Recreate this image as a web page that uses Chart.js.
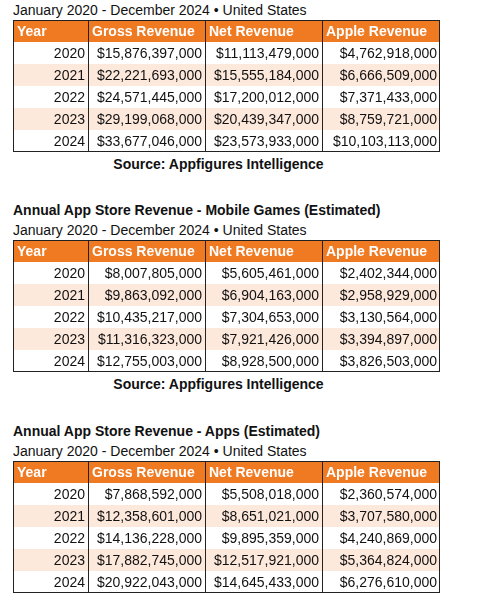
<!DOCTYPE html>
<html>
<head>
<meta charset="utf-8">
<script src="https://cdn.jsdelivr.net/npm/chart.js@4"></script>
<style>
  body { margin: 0; background: #fff; font-family: "Liberation Sans", Arial, sans-serif; color: #111; }
  .block { position: absolute; left: 13px; width: 427px; }
  .title { font-weight: bold; font-size: 14px; height: 20px; line-height: 20px; }
  .sub { font-size: 14px; height: 20px; line-height: 20px; }
  .src { font-weight: bold; font-size: 14px; text-align: center; margin-top: 4px; padding-right: 16px; }
  .wrap { position: relative; width: 427px; height: 132px; }
</style>
</head>
<body>
<div class="block" style="top:0px">
  <div class="sub">January 2020 - December 2024 • United States</div>
  <div class="wrap"><canvas id="t1"></canvas></div>
  <div class="src">Source: Appfigures Intelligence</div>
</div>
<div class="block" style="top:200px">
  <div class="title">Annual App Store Revenue - Mobile Games (Estimated)</div>
  <div class="sub">January 2020 - December 2024 • United States</div>
  <div class="wrap"><canvas id="t2"></canvas></div>
  <div class="src">Source: Appfigures Intelligence</div>
</div>
<div class="block" style="top:421px">
  <div class="title">Annual App Store Revenue - Apps (Estimated)</div>
  <div class="sub">January 2020 - December 2024 • United States</div>
  <div class="wrap"><canvas id="t3"></canvas></div>
</div>
<script>
const columns = ['Year', 'Gross Revenue', 'Net Revenue', 'Apple Revenue'];
const years = ['2020', '2021', '2022', '2023', '2024'];

const totalGross = [15876397000, 22221693000, 24571445000, 29199068000, 33677046000];
const totalNet = [11113479000, 15555184000, 17200012000, 20439347000, 23573933000];
const totalApple = [4762918000, 6666509000, 7371433000, 8759721000, 10103113000];

const gamesGross = [8007805000, 9863092000, 10435217000, 11316323000, 12755003000];
const gamesNet = [5605461000, 6904163000, 7304653000, 7921426000, 8928500000];
const gamesApple = [2402344000, 2958929000, 3130564000, 3394897000, 3826503000];

const appsGross = [7868592000, 12358601000, 14136228000, 17882745000, 20922043000];
const appsNet = [5508018000, 8651021000, 9895359000, 12517921000, 14645433000];
const appsApple = [2360574000, 3707580000, 4240869000, 5364824000, 6276610000];

const colWidths = [75, 117, 117, 118];
const fmt = v => '$' + v.toLocaleString('en-US');

// draws the cells of a table, rows placed by the chart's y category scale
const tablePlugin = {
    id: 'tableCells',
    afterDraw(chart) {
        const ctx = chart.ctx;
        const yScale = chart.scales.y;
        const area = chart.chartArea;
        const rows = chart.options.plugins.tableCells.rows;
        const labels = yScale.getLabels();
        const band = (area.bottom - area.top) / labels.length;
        ctx.save();
        labels.forEach((lab, i) => {
            const cy = yScale.getPixelForValue(i);
            const top = cy - band / 2;
            let x = area.left;
            if (i === 0) {
                ctx.fillStyle = '#f07a22';
                ctx.fillRect(area.left, top, area.right - area.left, band);
            } else if (i % 2 === 0) {
                ctx.fillStyle = '#fde8dc';
                ctx.fillRect(area.left, top, area.right - area.left, band);
            }
            colWidths.forEach((w, c) => {
                ctx.font = (i === 0 ? 'bold ' : '') + '14px "Liberation Sans", Arial, sans-serif';
                ctx.textBaseline = 'middle';
                if (i === 0) {
                    ctx.fillStyle = '#ffffff';
                    ctx.textAlign = 'left';
                    ctx.fillText(columns[c], x + 4, cy + 1);
                } else {
                    ctx.fillStyle = '#111';
                    ctx.textAlign = 'right';
                    const txt = c === 0 ? lab : fmt(rows[c - 1][i - 1]);
                    ctx.fillText(txt, x + w - 3, cy + 1);
                }
                x += w;
            });
        });
        // grid lines
        ctx.strokeStyle = '#222';
        ctx.lineWidth = 1;
        ctx.strokeRect(area.left + 0.5, area.top + 0.5, area.right - area.left - 1, area.bottom - area.top - 1);
        let x = area.left;
        colWidths.slice(0, -1).forEach(w => {
            x += w;
            ctx.beginPath();
            ctx.moveTo(x + 0.5, area.top);
            ctx.lineTo(x + 0.5, area.bottom);
            ctx.stroke();
        });
        ctx.restore();
    }
};

function makeTable(id, gross, net, apple) {
    new Chart(document.getElementById(id), {
        type: 'scatter',
        data: { labels: ['header'].concat(years), datasets: [] },
        options: {
            responsive: true,
            maintainAspectRatio: false,
            animation: false,
            layout: { padding: 0 },
            plugins: {
                legend: { display: false },
                tooltip: { enabled: false },
                tableCells: { rows: [gross, net, apple] }
            },
            scales: {
                x: { type: 'linear', display: false, min: 0, max: 1 },
                y: { type: 'category', display: false, offset: true, reverse: false }
            }
        },
        plugins: [tablePlugin]
    });
}

makeTable('t1', totalGross, totalNet, totalApple);
makeTable('t2', gamesGross, gamesNet, gamesApple);
makeTable('t3', appsGross, appsNet, appsApple);
</script>
</body>
</html>
